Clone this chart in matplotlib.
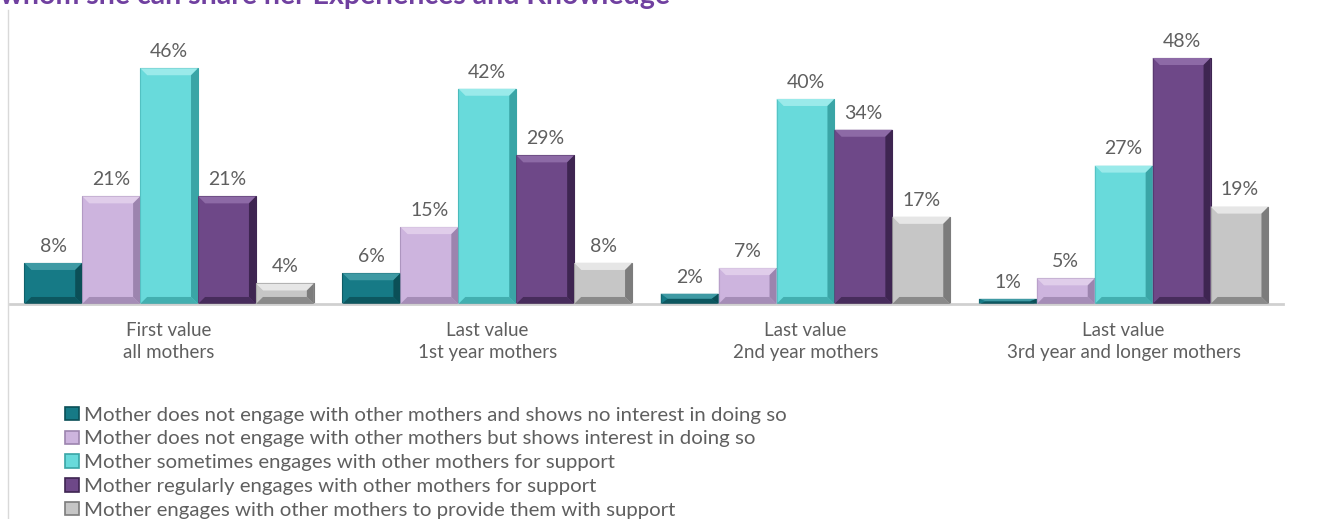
import matplotlib
matplotlib.use("Agg")
import matplotlib.pyplot as plt
from matplotlib.patches import Polygon, Patch
from matplotlib.lines import Line2D
import numpy as np

plt.rcParams['font.family'] = ['Lato', 'DejaVu Sans']

groups = ['First value\nall mothers', 'Last value\n1st year mothers',
          'Last value\n2nd year mothers', 'Last value\n3rd year and longer mothers']
series = ['Mother does not engage with other mothers and shows no interest in doing so',
          'Mother does not engage with other mothers but shows interest in doing so',
          'Mother sometimes engages with other mothers for support',
          'Mother regularly engages with other mothers for support',
          'Mother engages with other mothers to provide them with support']
no_interest = [8, 6, 2, 1]
interest = [21, 15, 7, 5]
sometimes = [46, 42, 40, 27]
regularly = [21, 29, 34, 48]
provides = [4, 8, 17, 19]
values = [no_interest, interest, sometimes, regularly, provides]

face = ['#167A86', '#CDB4DE', '#68DADB', '#6E4888', '#C6C6C6']
light = ['#3F9AA4', '#E0CDEA', '#9AEAEA', '#8D6AA6', '#E6E6E6']
dark = ['#0B4F57', '#9C84AE', '#3AA5A6', '#3E2551', '#7C7C7C']
txt = '#5F5F5F'

fig = plt.figure(figsize=(13.3, 5.19), dpi=100)
ax = fig.add_axes([0.0075, 0.4143, 0.957, 0.4937])
ax.set_xlim(-0.5, 3.5)
ax.set_ylim(0, 50)

x = np.arange(len(groups))
w = 0.182
# bevel size in data units (~7 px)
bx = 7 / (0.957 * 1330) * 4.0
by = 7 / (0.4937 * 519) * 50

for i, vals in enumerate(values):
    xs = x + (i - 2) * w
    ax.bar(xs, vals, width=w, color=face[i], edgecolor=dark[i], linewidth=0.8, zorder=2)
    for xc, v in zip(xs, vals):
        x0, x1 = xc - w / 2, xc + w / 2
        ix = bx
        iy = min(by, v / 2)
        # top, left, right and bottom facets of the bevel
        ax.add_patch(Polygon([(x0, v), (x1, v), (x1 - ix, v - iy), (x0 + ix, v - iy)],
                             closed=True, fc=light[i], ec='none', zorder=3))
        ax.add_patch(Polygon([(x0, 0), (x0, v), (x0 + ix, v - iy), (x0 + ix, iy)],
                             closed=True, fc=face[i], ec='none', alpha=0.6, zorder=3))
        ax.add_patch(Polygon([(x1, 0), (x1, v), (x1 - ix, v - iy), (x1 - ix, iy)],
                             closed=True, fc=dark[i], ec='none', zorder=3))
        ax.add_patch(Polygon([(x0, 0), (x1, 0), (x1 - ix, iy), (x0 + ix, iy)],
                             closed=True, fc=dark[i], ec='none', alpha=0.8, zorder=3))
        ax.text(xc, v + 1.6, f'{v}%', ha='center', va='bottom', fontsize=14, color=txt)

for s in ['top', 'right', 'left']:
    ax.spines[s].set_visible(False)
ax.spines['bottom'].set_color('#D0D0D0')
ax.spines['bottom'].set_linewidth(2)
ax.set_yticks([])
ax.set_xticks(x)
ax.set_xticklabels(groups, fontsize=13.5, color=txt, linespacing=1.35)
ax.tick_params(axis='x', length=0, pad=13)

handles = [Patch(facecolor=face[i], edgecolor=dark[i], linewidth=1.2) for i in range(5)]
fig.legend(handles, series, loc='upper left', bbox_to_anchor=(0.043, 0.232),
           frameon=False, fontsize=14.7, labelcolor=txt,
           handlelength=0.65, handleheight=0.65, handletextpad=0.25, labelspacing=0.33,
           borderaxespad=0)

fig.add_artist(Line2D([0.006, 0.006], [0.0, 0.98], color='#D9D9D9', lw=1))
fig.text(0.0, 1 - 4 / 519, 'whom she can share her Experiences and Knowledge',
         fontsize=20.5, fontweight='bold', color='#7040A0', va='baseline', ha='left')

fig.savefig('out.png', dpi=100)
